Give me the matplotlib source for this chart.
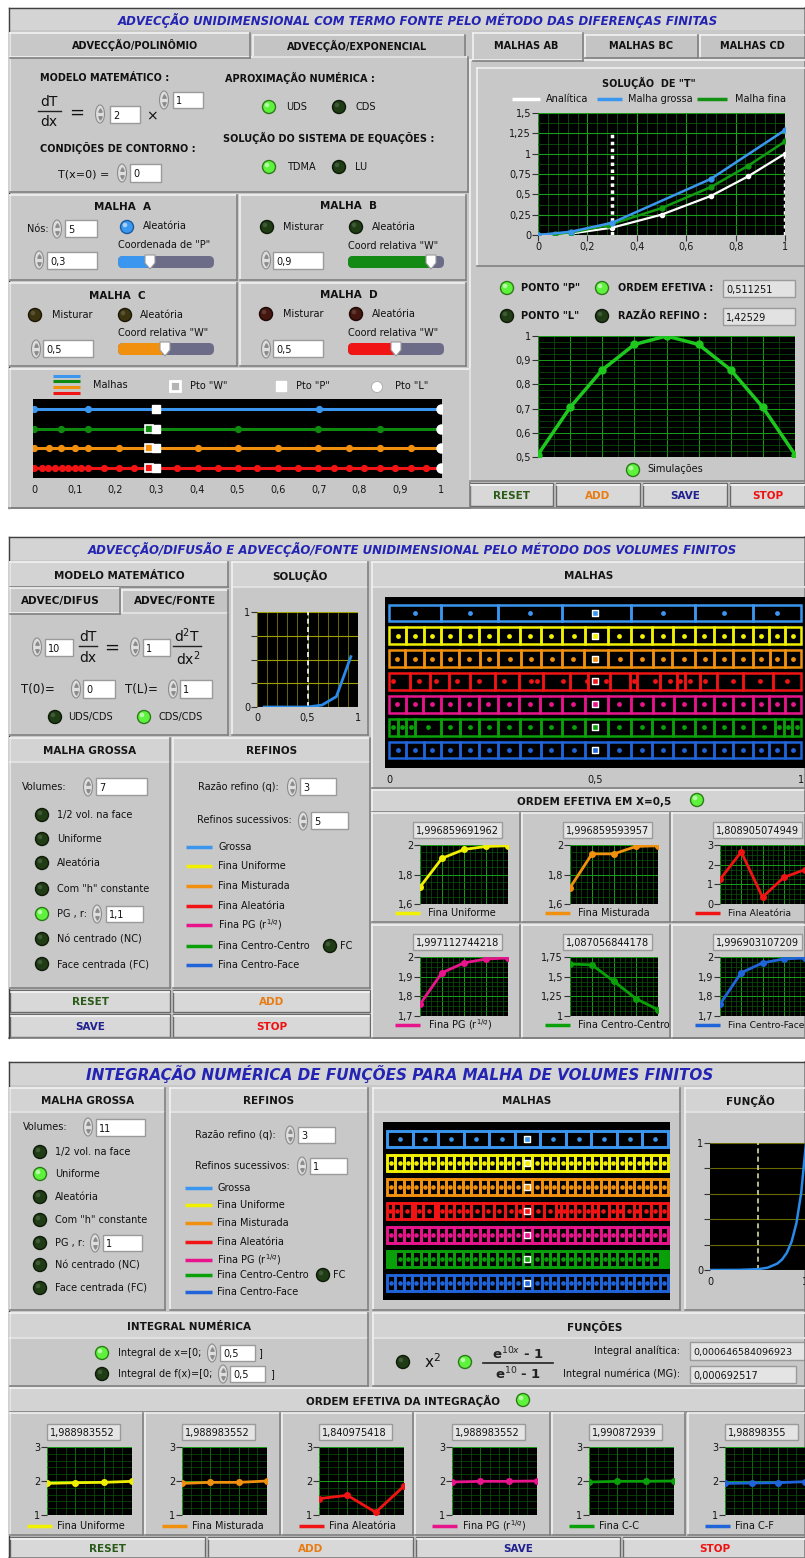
import matplotlib
matplotlib.use('Agg')
import matplotlib.pyplot as plt
from matplotlib.patches import Rectangle, Circle, Ellipse, FancyBboxPatch, Polygon
from matplotlib.ticker import MultipleLocator

# ---------------- data ----------------
# panel 1 - solution of T
sol_x_analit = [0, 0.067, 0.133, 0.3, 0.5, 0.7, 0.85, 1.0]
sol_y_analit = [0, 0.005, 0.018, 0.09, 0.25, 0.48, 0.72, 1.0]
sol_x_grossa = [0, 0.133, 0.3, 0.7, 1.0]
sol_y_grossa = [0, 0.04, 0.15, 0.69, 1.29]
sol_x_fina = [0, 0.067, 0.133, 0.283, 0.5, 0.7, 0.85, 1.0]
sol_y_fina = [0, 0.01, 0.03, 0.12, 0.33, 0.59, 0.85, 1.15]
sol_xticks = [0, 0.2, 0.4, 0.6, 0.8, 1.0]
sol_xlabels = ['0', '0,2', '0,4', '0,6', '0,8', '1']
sol_yticks = [0, 0.25, 0.5, 0.75, 1.0, 1.25, 1.5]
sol_ylabels = ['0', '0,25', '0,5', '0,75', '1', '1,25', '1,5']

# panel 1 - simulations
sim_x = [0, 1, 2, 3, 4, 5, 6, 7, 8]
sim_y = [0.51, 0.705, 0.86, 0.965, 1.0, 0.965, 0.86, 0.705, 0.51]
sim_yticks = [0.5, 0.6, 0.7, 0.8, 0.9, 1.0]
sim_ylabels = ['0,5', '0,6', '0,7', '0,8', '0,9', '1']

# panel 1 - mesh nodes
mesh_a = [0, 0.133, 0.7, 1.0]
mesh_b = [0, 0.067, 0.133, 0.5, 0.698, 0.851, 1.0]
mesh_c = [0, 0.037, 0.067, 0.1, 0.133, 0.209, 0.403, 0.5, 0.6, 0.698, 0.775, 0.851, 0.926, 1.0]
mesh_d = [0, 0.018, 0.035, 0.052, 0.068, 0.084, 0.1, 0.116, 0.133, 0.172, 0.209, 0.246,
          0.352, 0.403, 0.451, 0.5, 0.549, 0.6, 0.648, 0.698, 0.738, 0.775, 0.811, 0.851,
          0.888, 0.926, 0.963, 1.0]
pto_w, pto_p, pto_l = 0.283, 0.3, 1.0
mesh_ticks = [0, 0.1, 0.2, 0.3, 0.4, 0.5, 0.6, 0.7, 0.8, 0.9, 1.0]
mesh_labels = ['0', '0,1', '0,2', '0,3', '0,4', '0,5', '0,6', '0,7', '0,8', '0,9', '1']

# panel 2 - solution
fv_sol_x = [0.071, 0.214, 0.357, 0.5, 0.643, 0.786, 0.929]
fv_sol_y = [0, 0, 0, 0.0, 0.02, 0.11, 0.53]

# panel 2 - meshes (faces)
p2_grossa = [0, 0.126, 0.265, 0.42, 0.587, 0.742, 0.883, 1.0]
p2_uniforme = [0, 0.042, 0.084, 0.126, 0.172, 0.219, 0.265, 0.317, 0.368, 0.42, 0.476,
               0.531, 0.587, 0.639, 0.690, 0.742, 0.789, 0.836, 0.883, 0.922, 0.961, 1.0]
p2_misturada = [0, 0.04, 0.085, 0.126, 0.17, 0.22, 0.265, 0.32, 0.37, 0.42, 0.474,
                0.532, 0.587, 0.64, 0.688, 0.742, 0.79, 0.835, 0.883, 0.925, 0.96, 1.0]
p2_aleatoria = [0, 0.051, 0.10, 0.146, 0.197, 0.257, 0.316, 0.375, 0.44, 0.484, 0.537,
                0.585, 0.601, 0.658, 0.698, 0.718, 0.755, 0.795, 0.86, 0.933, 1.0]
p2_aleatoria_nos = [0.01, 0.074, 0.113, 0.166, 0.219, 0.28, 0.345, 0.36, 0.422, 0.48, 0.527,
                    0.595, 0.646, 0.682, 0.706, 0.73, 0.767, 0.834, 0.9, 0.965]
p2_pg = [0, 0.041, 0.083, 0.126, 0.171, 0.218, 0.265, 0.316, 0.367, 0.42, 0.475,
         0.531, 0.587, 0.64, 0.691, 0.742, 0.789, 0.836, 0.883, 0.923, 0.962, 1.0]
p2_cc = [0, 0.021, 0.042, 0.063, 0.126, 0.172, 0.219, 0.265, 0.317, 0.368, 0.42, 0.476,
         0.531, 0.587, 0.639, 0.690, 0.742, 0.789, 0.836, 0.883, 0.937, 0.958, 0.979, 1.0]
p2_cf = [0, 0.042, 0.084, 0.126, 0.172, 0.219, 0.265, 0.317, 0.368, 0.42, 0.476,
         0.531, 0.587, 0.639, 0.690, 0.742, 0.789, 0.836, 0.883, 0.922, 0.961, 1.0]

# panel 2 - effective order
ordem_x = [1, 2, 3, 4, 5]
ordem_uniforme = [1.715, 1.91, 1.97, 1.99, 1.995]
ordem_misturada = [1.71, 1.94, 1.94, 1.99, 1.995]
ordem_aleatoria = [1.25, 2.65, 0.35, 1.35, 1.75]
ordem_pg = [1.76, 1.92, 1.97, 1.99, 1.995]
ordem_cc = [1.66, 1.65, 1.44, 1.22, 1.08]
ordem_cf = [1.76, 1.92, 1.97, 1.99, 1.995]
ordem_valores = ['1,996859691962', '1,996859593957', '1,808905074949',
                 '1,997112744218', '1,087056844178', '1,996903107209']

# panel 3 - meshes (faces)
p3_grossa = [0, 0.091, 0.182, 0.273, 0.364, 0.455, 0.545, 0.636, 0.727, 0.818, 0.909, 1.0]
p3_uniforme = [0, 0.03, 0.06, 0.09, 0.12, 0.15, 0.18, 0.21, 0.24, 0.27, 0.30, 0.33, 0.36,
               0.39, 0.42, 0.45, 0.485, 0.515, 0.55, 0.58, 0.61, 0.64, 0.67, 0.70, 0.73,
               0.76, 0.79, 0.82, 0.85, 0.88, 0.91, 0.94, 0.97, 1.0]
p3_aleatoria = [0, 0.02, 0.05, 0.09, 0.1, 0.13, 0.17, 0.18, 0.21, 0.24, 0.27, 0.3, 0.34,
                0.38, 0.42, 0.46, 0.485, 0.515, 0.56, 0.6, 0.62, 0.64, 0.67, 0.7, 0.73,
                0.75, 0.79, 0.82, 0.84, 0.88, 0.9, 0.94, 0.97, 1.0]
p3_cc = [0, 0.01, 0.02, 0.03, 0.06, 0.09, 0.12, 0.15, 0.18, 0.21, 0.24, 0.27, 0.30, 0.33,
         0.36, 0.39, 0.42, 0.45, 0.485, 0.515, 0.55, 0.58, 0.61, 0.64, 0.67, 0.70, 0.73,
         0.76, 0.79, 0.82, 0.85, 0.88, 0.91, 0.94, 0.97, 0.98, 0.99, 1.0]

# panel 3 - function
fun_x = [0, 0.3, 0.5, 0.6, 0.7, 0.75, 0.8, 0.85, 0.9, 0.95, 1.0]
fun_y = [0, 0.0009, 0.0067, 0.018, 0.05, 0.082, 0.135, 0.223, 0.368, 0.607, 1.0]

# panel 3 - effective order of integration
int_x = [1, 2, 3, 4]
int_uniforme = [1.93, 1.95, 1.96, 1.99]
int_misturada = [1.93, 1.96, 1.96, 2.0]
int_aleatoria = [1.48, 1.58, 1.08, 1.85]
int_pg = [1.97, 1.99, 1.99, 2.0]
int_cc = [1.97, 1.99, 1.99, 2.0]
int_cf = [1.93, 1.94, 1.95, 1.98]
int_valores = ['1,988983552', '1,988983552', '1,840975418',
               '1,988983552', '1,990872939', '1,98898355']

# ---------------- figure setup ----------------
plt.rcParams['font.family'] = 'DejaVu Sans'
W, H = 805, 1558
fig = plt.figure(figsize=(W / 100, H / 100), dpi=100)
bg = fig.add_axes([0, 0, 1, 1])
bg.set_xlim(0, W)
bg.set_ylim(H, 0)
bg.axis('off')

GRAY = '#c8c8c8'
HEAD = '#d3d3d3'
TITLE_BLUE = '#2323b4'
C_BLUE, C_GREEN, C_ORANGE, C_RED = '#3a96ee', '#0e8a0e', '#f0900e', '#f01414'
C_YELLOW, C_MAGENTA, C_GREEN2, C_DBLUE = '#f0f000', '#e8148c', '#0aa00a', '#1f64d8'


def pax(x0, y0, x1, y1):
    return fig.add_axes([x0 / W, 1 - y1 / H, (x1 - x0) / W, (y1 - y0) / H])


def T(x, y, s, size=7, bold=False, color='#111111', ha='left', italic=False):
    bg.text(x, y, s, fontsize=size, fontweight='bold' if bold else 'normal',
            color=color, ha=ha, va='center', style='italic' if italic else 'normal')


def bevel(x0, y0, x1, y1, fc=GRAY):
    bg.add_patch(Rectangle((x0, y0), x1 - x0, y1 - y0, fc=fc, ec='none'))
    bg.plot([x0, x1], [y0, y0], color='#f2f2f2', lw=1.2)
    bg.plot([x0, x0], [y0, y1], color='#f2f2f2', lw=1.2)
    bg.plot([x0, x1], [y1, y1], color='#808080', lw=1.2)
    bg.plot([x1, x1], [y0, y1], color='#808080', lw=1.2)


def header(x0, y0, x1, y1, label, cx=None):
    bevel(x0, y0, x1, y1, HEAD)
    T(cx if cx else (x0 + x1) / 2, (y0 + y1) / 2 + 1, label, 7.5, True, '#151515', 'center')


def led(x, y, kind='off'):
    cols = {'on': ('#5ef23c', '#2c7a18'), 'off': ('#1f3c15', '#0d1a08'),
            'blue': ('#3c98ee', '#1a5aa0'), 'olive': ('#3c3410', '#1a1606'),
            'red': ('#44160f', '#1c0804')}
    fc, ec = cols[kind]
    bg.add_patch(Circle((x, y), 6.5, fc=fc, ec=ec, lw=1))
    bg.add_patch(Circle((x - 2, y - 2), 2.3, fc='white', ec='none',
                        alpha=0.55 if kind in ('on', 'blue') else 0.15))


def numbox(x0, y0, x1, y1, s, fc='white', size=7):
    bg.add_patch(Rectangle((x0, y0), x1 - x0, y1 - y0, fc=fc, ec='#9a9a9a', lw=1))
    T(x0 + 3, (y0 + y1) / 2 + 1, s, size)


def spinner(x, y):
    bg.add_patch(Ellipse((x, y), 9, 18, fc='#dedede', ec='#8c8c8c', lw=0.8))
    bg.plot([x], [y - 4], marker='^', ms=2.5, color='#8c8c8c')
    bg.plot([x], [y + 4], marker='v', ms=2.5, color='#8c8c8c')


def slider(x0, x1, y, xt, color):
    bg.add_patch(FancyBboxPatch((x0, y - 6), x1 - x0, 12, boxstyle='round,pad=0,rounding_size=5',
                                fc='#6c6c88', ec='none'))
    bg.add_patch(FancyBboxPatch((x0, y - 6), xt - x0, 12, boxstyle='round,pad=0,rounding_size=5',
                                fc=color, ec='none'))
    bg.add_patch(Polygon([(xt - 5, y - 7), (xt + 5, y - 7), (xt + 5, y + 1), (xt, y + 7), (xt - 5, y + 1)],
                         fc='white', ec='#9a9a9a', lw=0.8))


def button(x0, y0, x1, y1, label, color):
    bg.add_patch(Rectangle((x0, y0), x1 - x0, y1 - y0, fc='#d8d8d8', ec='#6a6a6a', lw=1))
    bg.plot([x0 + 1, x1 - 1], [y0 + 1.5, y0 + 1.5], color='#f6f6f6', lw=1.2)
    T((x0 + x1) / 2, (y0 + y1) / 2 + 1, label, 7.5, True, color, 'center')


def legline(x0, x1, y, color, label, lx=None, size=7):
    bg.plot([x0, x1], [y, y], color=color, lw=2.5, solid_capstyle='butt')
    T(lx if lx else x1 + 6, y, label, size)


def black_axes(ax):
    ax.set_facecolor('black')
    for s in ax.spines.values():
        s.set_visible(False)
    ax.tick_params(labelsize=7, length=4, pad=1, color='#333333', labelcolor='#151515')
    ax.tick_params(which='minor', length=0)


def small_plot(rect, xs, ys, color, ylim, yticks, ylabels, minor_y, minor_x=0.25):
    ax = pax(*rect)
    black_axes(ax)
    ax.plot(xs, ys, color=color, lw=2, marker='o', ms=4)
    ax.set_xlim(xs[0], xs[-1])
    ax.set_ylim(*ylim)
    ax.set_yticks(yticks)
    ax.set_yticklabels(ylabels)
    ax.set_xticks(xs)
    ax.set_xticklabels([])
    ax.tick_params(axis='x', length=0)
    ax.xaxis.set_minor_locator(MultipleLocator(minor_x))
    ax.yaxis.set_minor_locator(MultipleLocator(minor_y))
    ax.grid(which='major', color='#17a017', lw=0.7)
    ax.grid(which='minor', color='#0a520a', lw=0.5)
    return ax


def mesh_row(ax, row, faces, color, h, nodes=None, s=12, lw=1.8):
    for f0, f1 in zip(faces[:-1], faces[1:]):
        ax.add_patch(Rectangle((f0, row - h / 2), f1 - f0, h, fc='none', ec=color, lw=lw))
    if nodes is None:
        nodes = [(a + b) / 2 for a, b in zip(faces[:-1], faces[1:])]
    ax.scatter(nodes, [row] * len(nodes), s=s, c=color, zorder=3, linewidths=0)
    ax.scatter([0.5], [row], marker='s', s=16, c=[color], edgecolors='white', linewidths=1, zorder=4)


# ======================= PANEL 1 =======================
bevel(9, 8, 805, 508)
bg.add_patch(Rectangle((9, 8), 796, 22, fc='#d4d4d4', ec='none'))
bg.plot([9, 805], [8, 8], color='#404040', lw=1)
bg.plot([9, 9], [8, 508], color='#404040', lw=1)
T(418, 20, 'ADVECÇÃO UNIDIMENSIONAL COM TERMO FONTE PELO MÉTODO DAS DIFERENÇAS FINITAS',
  8.5, True, TITLE_BLUE, 'center', True)

# tabs
bevel(253, 35, 465, 57, '#c4c4c4')
T(357, 46, 'ADVECÇÃO/EXPONENCIAL', 7, True, ha='center')
bevel(10, 57, 468, 192)
bevel(10, 33, 250, 58)
bg.add_patch(Rectangle((11, 50), 238, 9, fc=GRAY, ec='none'))
T(135, 45, 'ADVECÇÃO/POLINÔMIO', 7, True, ha='center')

T(40, 78, 'MODELO MATEMÁTICO :', 7, True)
T(49, 102, 'dT', 10, ha='center')
bg.plot([38, 61], [111, 111], color='#222222', lw=1)
T(49, 122, 'dx', 10, ha='center')
T(77, 113, '=', 13, ha='center')
spinner(100, 114)
numbox(110, 106, 140, 123, '2')
T(152, 116, '×', 10, ha='center')
spinner(164, 100)
numbox(173, 92, 203, 108, '1')
T(40, 148, 'CONDIÇÕES DE CONTORNO :', 7, True)
T(58, 174, 'T(x=0) =', 8)
spinner(122, 173)
numbox(130, 164, 161, 182, '0')

T(225, 78, 'APROXIMAÇÃO NUMÉRICA :', 7, True)
led(269, 107, 'on')
T(286, 107, 'UDS', 7)
led(339, 107, 'off')
T(355, 107, 'CDS', 7)
T(223, 138, 'SOLUÇÃO DO SISTEMA DE EQUAÇÕES :', 7, True)
led(269, 167, 'on')
T(287, 167, 'TDMA', 7)
led(339, 167, 'off')
T(355, 167, 'LU', 7)

# malha A..D boxes
bevel(10, 195, 237, 280)
bevel(240, 195, 466, 280)
bevel(10, 283, 237, 366)
bevel(240, 283, 466, 366)

T(122, 207, 'MALHA  A', 7.5, True, ha='center')
T(27, 229, 'Nós:', 7)
spinner(57, 229)
numbox(65, 220, 97, 237, '5')
led(127, 227, 'blue')
T(143, 226, 'Aleatória', 7)
T(118, 245, 'Coordenada de "P"', 7)
spinner(39, 260)
numbox(47, 252, 97, 269, '0,3')
slider(118, 214, 262, 150, C_BLUE)

T(348, 206, 'MALHA  B', 7.5, True, ha='center')
led(267, 227, 'off')
T(283, 227, 'Misturar', 7)
led(356, 227, 'off')
T(372, 227, 'Aleatória', 7)
T(348, 246, 'Coord relativa "W"', 7)
spinner(266, 260)
numbox(273, 252, 323, 269, '0,9')
slider(348, 444, 262, 431, '#138a13')

T(117, 296, 'MALHA  C', 7.5, True, ha='center')
led(35, 315, 'olive')
T(52, 315, 'Misturar', 7)
led(125, 315, 'olive')
T(140, 315, 'Aleatória', 7)
T(118, 333, 'Coord relativa "W"', 7)
spinner(36, 349)
numbox(43, 340, 93, 357, '0,5')
slider(118, 214, 349, 165, C_ORANGE)

T(349, 295, 'MALHA  D', 7.5, True, ha='center')
led(266, 314, 'red')
T(283, 314, 'Misturar', 7)
led(356, 314, 'red')
T(372, 314, 'Aleatória', 7)
T(348, 333, 'Coord relativa "W"', 7)
spinner(266, 349)
numbox(273, 340, 323, 357, '0,5')
slider(348, 444, 349, 396, C_RED)

# mesh panel
bevel(10, 369, 470, 508)
for yy, cc in zip([376, 381, 387, 393], [C_BLUE, C_GREEN, C_ORANGE, C_RED]):
    bg.plot([53, 80], [yy, yy], color=cc, lw=2.2, solid_capstyle='butt')
T(93, 385, 'Malhas', 7)
bg.add_patch(Rectangle((170, 381), 10, 10, fc='#b4b4b4', ec='white', lw=2))
T(190, 386, 'Pto "W"', 7)
bg.add_patch(Rectangle((276, 381), 10, 10, fc='white', ec='white', lw=1))
T(296, 386, 'Pto "P"', 7)
bg.add_patch(Circle((377, 387), 5.5, fc='white', ec='#aaaaaa', lw=0.6))
T(395, 386, 'Pto "L"', 7)

axm = pax(33, 399, 442, 478)
axm.set_facecolor('black')
for s in axm.spines.values():
    s.set_visible(False)
rows1 = [(mesh_a, C_BLUE), (mesh_b, C_GREEN), (mesh_c, C_ORANGE), (mesh_d, C_RED)]
for i, (nodes, cc) in enumerate(rows1):
    axm.plot([0, 1], [i, i], color=cc, lw=2.2)
    axm.plot(nodes, [i] * len(nodes), 'o', color=cc, ms=4.2)
    if i > 0:
        axm.plot([pto_w], [i], 's', ms=5.5, mfc=cc, mec='white', mew=1.2)
    axm.plot([pto_p], [i], 's', ms=6, mfc='white', mec='white')
    axm.plot([pto_l], [i], 'o', ms=6.5, mfc='white', mec='white')
axm.set_xlim(-0.003, 1.003)
axm.set_ylim(3.53, -0.53)
axm.set_yticks([])
axm.set_xticks(mesh_ticks)
axm.set_xticklabels(mesh_labels)
axm.tick_params(axis='x', length=0, pad=5, labelsize=7, labelcolor='#151515')

# right side tabs
bevel(585, 35, 698, 58, '#c4c4c4')
T(641, 46, 'MALHAS BC', 7, True, ha='center')
bevel(700, 35, 806, 58, '#c4c4c4')
T(752, 46, 'MALHAS CD', 7, True, ha='center')
bevel(470, 60, 806, 481)
bevel(473, 33, 583, 61)
bg.add_patch(Rectangle((474, 54), 108, 9, fc=GRAY, ec='none'))
T(526, 46, 'MALHAS AB', 7, True, ha='center')
bevel(477, 68, 806, 266)

T(649, 83, 'SOLUÇÃO  DE "T"', 7, True, ha='center')
legline(512, 540, 99, 'white', 'Analítica', 546)
legline(597, 622, 99, C_BLUE, 'Malha grossa', 628)
legline(697, 727, 99, '#119011', 'Malha fina', 735)

ax1 = pax(538, 113, 785, 235)
black_axes(ax1)
ax1.plot([0.3, 0.3], [0, 1.25], color='white', lw=2.5, ls=(0, (1, 1)))
ax1.plot([1.0, 1.0], [0, 1.0], color='white', lw=2.5, ls=(0, (1, 1)))
ax1.plot(sol_x_analit, sol_y_analit, color='white', lw=1.6, marker='o', ms=3)
ax1.plot(sol_x_fina, sol_y_fina, color='#129a12', lw=1.8, marker='o', ms=3.5)
ax1.plot(sol_x_grossa, sol_y_grossa, color=C_BLUE, lw=1.8, marker='o', ms=3.5)
ax1.set_xlim(0, 1)
ax1.set_ylim(0, 1.5)
ax1.set_xticks(sol_xticks)
ax1.set_xticklabels(sol_xlabels)
ax1.set_yticks(sol_yticks)
ax1.set_yticklabels(sol_ylabels)
ax1.xaxis.set_minor_locator(MultipleLocator(0.04))
ax1.yaxis.set_minor_locator(MultipleLocator(0.125))
ax1.grid(which='major', color='#17a017', lw=0.8)
ax1.grid(which='minor', color='#0b560b', lw=0.6)

led(507, 288, 'on')
T(521, 288, 'PONTO "P"', 7, True)
led(602, 288, 'on')
T(618, 288, 'ORDEM EFETIVA :', 7, True)
numbox(723, 280, 795, 297, '0,511251', fc='#e2e2e2')
led(507, 316, 'off')
T(521, 316, 'PONTO "L"', 7, True)
led(602, 316, 'off')
T(618, 316, 'RAZÃO REFINO :', 7, True)
numbox(723, 308, 795, 325, '1,42529', fc='#e2e2e2')

ax2 = pax(538, 336, 795, 457)
black_axes(ax2)
ax2.plot(sim_x, sim_y, color='#1ec81e', lw=2.5, marker='o', ms=5)
ax2.set_xlim(0, 8)
ax2.set_ylim(0.5, 1.0)
ax2.set_yticks(sim_yticks)
ax2.set_yticklabels(sim_ylabels)
ax2.set_xticks(sim_x)
ax2.set_xticklabels([])
ax2.tick_params(axis='x', length=0)
ax2.xaxis.set_minor_locator(MultipleLocator(0.5))
ax2.yaxis.set_minor_locator(MultipleLocator(0.025))
ax2.grid(which='major', color='#17a017', lw=0.7)
ax2.grid(which='minor', color='#0b560b', lw=0.5)
led(633, 470, 'on')
T(647, 469, 'Simulações', 7)

button(470, 483, 553, 506, 'RESET', '#2a5a18')
button(556, 483, 640, 506, 'ADD', '#e87c12')
button(643, 483, 727, 506, 'SAVE', '#20208e')
button(730, 483, 806, 506, 'STOP', '#f01010')

# ======================= PANEL 2 =======================
bevel(9, 537, 805, 1038)
bg.add_patch(Rectangle((9, 538), 796, 22, fc='#d4d4d4', ec='none'))
bg.plot([9, 805], [537, 537], color='#404040', lw=1)
bg.plot([9, 9], [537, 1038], color='#404040', lw=1)
T(412, 549, 'ADVECÇÃO/DIFUSÃO E ADVECÇÃO/FONTE UNIDIMENSIONAL PELO MÉTODO DOS VOLUMES FINITOS',
  8.5, True, TITLE_BLUE, 'center', True)

header(10, 562, 228, 587, 'MODELO MATEMÁTICO')
bevel(122, 590, 228, 613, '#c4c4c4')
T(175, 601, 'ADVEC/FONTE', 7.5, True, ha='center')
bevel(10, 613, 228, 735)
bevel(10, 588, 120, 614)
bg.add_patch(Rectangle((11, 607), 108, 9, fc=GRAY, ec='none'))
T(60, 601, 'ADVEC/DIFUS', 7.5, True, ha='center')

spinner(37, 647)
numbox(45, 639, 73, 656, '10')
T(88, 637, 'dT', 10, ha='center')
bg.plot([79, 97], [646, 646], color='#222222', lw=1)
T(88, 658, 'dx', 10, ha='center')
T(112, 648, '=', 13, ha='center')
spinner(135, 647)
numbox(143, 639, 170, 656, '1')
T(187, 636, 'd$^2$T', 10, ha='center')
bg.plot([173, 201], [646, 646], color='#222222', lw=1)
T(188, 659, 'dx$^2$', 10, ha='center')
T(21, 689, 'T(0)=', 8.5)
spinner(76, 689)
numbox(83, 680, 115, 698, '0')
T(125, 689, 'T(L)=', 8.5)
spinner(173, 689)
numbox(180, 680, 212, 698, '1')
led(55, 717, 'off')
T(68, 717, 'UDS/CDS', 7)
led(144, 717, 'on')
T(158, 717, 'CDS/CDS', 7)

header(232, 562, 368, 587, 'SOLUÇÃO')
bevel(232, 587, 368, 735)
ax3 = pax(257, 612, 358, 707)
black_axes(ax3)
ax3.plot([0.5, 0.5], [0, 1], color='white', lw=1.2, ls=(0, (3, 2)))
ax3.plot(fv_sol_x, fv_sol_y, color='#2a8ae8', lw=2)
ax3.set_xlim(0, 1)
ax3.set_ylim(0, 1)
ax3.set_xticks([0, 0.5, 1])
ax3.set_xticklabels(['0', '0,5', '1'])
ax3.set_yticks([0, 0.25, 0.5, 0.75, 1])
ax3.set_yticklabels(['0', '', '', '', '1'])
ax3.tick_params(axis='x', length=0, pad=4)
ax3.xaxis.set_minor_locator(MultipleLocator(0.1))
ax3.grid(which='major', axis='y', color='#a0a000', lw=0.8)
ax3.grid(which='both', axis='x', color='#7a7a00', lw=0.6)

header(372, 562, 805, 587, 'MALHAS')
bevel(372, 587, 806, 788)
ax4 = pax(385, 597, 805, 768)
ax4.set_facecolor('black')
for s in ax4.spines.values():
    s.set_visible(False)
rows2 = [(p2_grossa, C_BLUE, None), (p2_uniforme, C_YELLOW, None), (p2_misturada, C_ORANGE, None),
         (p2_aleatoria, C_RED, p2_aleatoria_nos), (p2_pg, C_MAGENTA, None),
         (p2_cc, C_GREEN2, None), (p2_cf, C_DBLUE, None)]
for i, (faces, cc, nodes) in enumerate(rows2):
    mesh_row(ax4, i, faces, cc, 0.74, nodes)
ax4.set_xlim(-0.0097, 1.0097)
ax4.set_ylim(6.79, -0.7)
ax4.set_yticks([])
ax4.set_xticks([0, 0.5, 1])
ax4.set_xticklabels(['0', '0,5', '1'])
ax4.tick_params(axis='x', length=0, pad=5, labelsize=7, labelcolor='#151515')

header(372, 790, 805, 812, 'ORDEM EFETIVA EM X=0,5', 594)
led(697, 800, 'on')

specs2 = [(ordem_uniforme, C_YELLOW, (1.6, 2.0), [1.6, 1.8, 2.0], ['1,6', '1,8', '2'], 0.05, 'Fina Uniforme'),
          (ordem_misturada, C_ORANGE, (1.6, 2.0), [1.6, 1.8, 2.0], ['1,6', '1,8', '2'], 0.05, 'Fina Misturada'),
          (ordem_aleatoria, C_RED, (0, 3), [0, 1, 2, 3], ['0', '1', '2', '3'], 0.25, 'Fina Aleatória'),
          (ordem_pg, C_MAGENTA, (1.7, 2.0), [1.7, 1.8, 1.9, 2.0], ['1,7', '1,8', '1,9', '2'], 0.025,
           'Fina PG (r$^{1/q}$)'),
          (ordem_cc, C_GREEN2, (1.0, 1.75), [1.0, 1.25, 1.5, 1.75], ['1', '1,25', '1,5', '1,75'], 0.0625,
           'Fina Centro-Centro'),
          (ordem_cf, C_DBLUE, (1.7, 2.0), [1.7, 1.8, 1.9, 2.0], ['1,7', '1,8', '1,9', '2'], 0.025,
           'Fina Centro-Face')]
col_box = [(372, 520), (522, 670), (672, 806)]
row_box = [(813, 922), (925, 1038)]
for k, (ys, cc, yl, yt, ylab, mn, name) in enumerate(specs2):
    r, c = divmod(k, 3)
    bx0, bx1 = col_box[c]
    by0, by1 = row_box[r]
    bevel(bx0, by0, bx1, by1)
    ax_left = bx0 + 48
    numbox(ax_left - 7, by0 + 9, ax_left + 82, by0 + 25, ordem_valores[k], fc='#e4e4e4')
    small_plot((ax_left, by0 + 32, min(ax_left + 88, 805), by0 + 91), ordem_x, ys, cc, yl, yt, ylab, mn)
    legline(bx0 + 23, bx0 + 48, by0 + 100, cc, name, bx0 + 56, 6.6 if c == 2 else 7)

header(10, 738, 170, 762, 'MALHA GROSSA')
bevel(10, 762, 170, 988)
T(22, 787, 'Volumes:', 7)
spinner(88, 787)
numbox(96, 778, 147, 795, '7')
leds2 = [('1/2 vol. na face', 'off'), ('Uniforme', 'off'), ('Aleatória', 'off'),
         ('Com "h" constante', 'off'), ('PG , r:', 'on'), ('Nó centrado (NC)', 'off'),
         ('Face centrada (FC)', 'off')]
for (lab, st), yy in zip(leds2, [815, 839, 863, 889, 914, 939, 964]):
    led(42, yy, st)
    T(57, yy, lab, 7)
spinner(97, 914)
numbox(106, 906, 143, 922, '1,1')

header(173, 738, 370, 762, 'REFINOS')
bevel(173, 762, 370, 988)
T(198, 787, 'Razão refino (q):', 7)
spinner(292, 787)
numbox(300, 778, 336, 795, '3')
T(197, 820, 'Refinos sucessivos:', 7)
spinner(303, 821)
numbox(311, 812, 348, 829, '5')
leg_names = ['Grossa', 'Fina Uniforme', 'Fina Misturada', 'Fina Aleatória', 'Fina PG (r$^{1/q}$)',
             'Fina Centro-Centro', 'Fina Centro-Face']
leg_cols = [C_BLUE, C_YELLOW, C_ORANGE, C_RED, C_MAGENTA, C_GREEN2, C_DBLUE]
for lab, cc, yy in zip(leg_names, leg_cols, [847, 866, 886, 906, 925, 946, 965]):
    legline(186, 212, yy, cc, lab, 218)
led(330, 946, 'off')
T(340, 946, 'FC', 7)

button(10, 990, 170, 1012, 'RESET', '#2a5a18')
button(173, 990, 370, 1012, 'ADD', '#e87c12')
button(10, 1014, 170, 1037, 'SAVE', '#20208e')
button(173, 1014, 370, 1037, 'STOP', '#f01010')

# ======================= PANEL 3 =======================
bevel(9, 1062, 805, 1558)
bg.add_patch(Rectangle((9, 1063), 796, 22, fc='#d4d4d4', ec='none'))
bg.plot([9, 805], [1062, 1062], color='#404040', lw=1)
bg.plot([9, 9], [1062, 1558], color='#404040', lw=1)
T(400, 1074, 'INTEGRAÇÃO NUMÉRICA DE FUNÇÕES PARA MALHA DE VOLUMES FINITOS',
  11, True, TITLE_BLUE, 'center', True)

header(10, 1088, 165, 1112, 'MALHA GROSSA')
bevel(10, 1112, 165, 1310)
T(23, 1127, 'Volumes:', 7)
spinner(88, 1127)
numbox(96, 1119, 145, 1136, '11')
leds3 = [('1/2 vol. na face', 'off'), ('Uniforme', 'on'), ('Aleatória', 'off'),
         ('Com "h" constante', 'off'), ('PG , r:', 'off'), ('Nó centrado (NC)', 'off'),
         ('Face centrada (FC)', 'off')]
for (lab, st), yy in zip(leds3, [1152, 1174, 1197, 1220, 1243, 1265, 1288]):
    led(40, yy, st)
    T(55, yy, lab, 7)
spinner(95, 1243)
numbox(103, 1235, 142, 1251, '1')

header(170, 1088, 368, 1112, 'REFINOS')
bevel(170, 1112, 368, 1310)
T(195, 1135, 'Razão refino (q):', 7)
spinner(290, 1135)
numbox(298, 1127, 335, 1143, '3')
T(195, 1166, 'Refinos sucessivos:', 7)
spinner(302, 1166)
numbox(310, 1158, 347, 1174, '1')
for lab, cc, yy in zip(leg_names, leg_cols, [1188, 1205, 1223, 1242, 1260, 1275, 1292]):
    legline(185, 212, yy, cc, lab, 217)
led(323, 1275, 'off')
T(333, 1275, 'FC', 7)

header(373, 1088, 680, 1112, 'MALHAS')
bevel(373, 1112, 680, 1310)
ax5 = pax(383, 1122, 670, 1300)
ax5.set_facecolor('black')
for s in ax5.spines.values():
    s.set_visible(False)
rows3 = [(p3_grossa, C_BLUE), (p3_uniforme, C_YELLOW), (p3_uniforme, C_ORANGE),
         (p3_aleatoria, C_RED), (p3_uniforme, C_MAGENTA), (p3_cc, C_GREEN2), (p3_uniforme, C_DBLUE)]
for i, (faces, cc) in enumerate(rows3):
    mesh_row(ax5, i, faces, cc, 0.68, s=11, lw=2.1)
ax5.set_xlim(-0.014, 1.007)
ax5.set_ylim(6.71, -0.71)
ax5.set_xticks([])
ax5.set_yticks([])

header(685, 1088, 806, 1112, 'FUNÇÃO', 750)
bevel(685, 1112, 806, 1310)
ax6 = pax(710, 1143, 806, 1270)
black_axes(ax6)
ax6.plot([0.5, 0.5], [0, 1], color='#d8d8a0', lw=1.2, ls=(0, (3, 2)))
ax6.plot(fun_x, fun_y, color='#2a8ae8', lw=1.8)
ax6.set_xlim(0, 1)
ax6.set_ylim(0, 1)
ax6.set_yticks([0, 0.2, 0.4, 0.6, 0.8, 1.0])
ax6.set_yticklabels(['0', '', '', '', '', '1'])
ax6.set_xticks([0, 0.985])
ax6.set_xticklabels(['0', '1'])
ax6.tick_params(axis='x', length=0, pad=5)
ax6.grid(which='major', axis='y', color='#6a6a00', lw=0.8)

header(10, 1313, 368, 1338, 'INTEGRAL NUMÉRICA')
bevel(10, 1338, 368, 1386)
led(102, 1353, 'on')
T(118, 1353, 'Integral de x=[0;', 7)
spinner(212, 1353)
numbox(220, 1345, 255, 1361, '0,5')
T(258, 1353, ']', 7)
led(102, 1374, 'off')
T(118, 1374, 'Integral de f(x)=[0;', 7)
spinner(223, 1374)
numbox(230, 1366, 265, 1382, '0,5')
T(270, 1374, ']', 7)

header(373, 1313, 806, 1338, 'FUNÇÕES', 595)
bevel(373, 1338, 806, 1386)
led(403, 1362, 'off')
T(424, 1362, 'x$^2$', 11)
led(465, 1362, 'on')
T(518, 1354, 'e$^{10x}$ - 1', 9.5, True, ha='center', color='#222222')
bg.plot([483, 553], [1363, 1363], color='#222222', lw=1.2)
T(518, 1374, 'e$^{10}$ - 1', 9.5, True, ha='center', color='#222222')
T(680, 1351, 'Integral analítica:', 7, ha='right')
numbox(690, 1342, 806, 1360, '0,000646584096923', fc='#e4e4e4', size=6.8)
T(680, 1374, 'Integral numérica (MG):', 7, ha='right')
numbox(690, 1366, 796, 1383, '0,000692517', fc='#e4e4e4')

header(10, 1388, 806, 1412, 'ORDEM EFETIVA DA INTEGRAÇÃO', 403)
led(523, 1400, 'on')

specs3 = [(int_uniforme, C_YELLOW, 'Fina Uniforme'), (int_misturada, C_ORANGE, 'Fina Misturada'),
          (int_aleatoria, C_RED, 'Fina Aleatória'), (int_pg, C_MAGENTA, 'Fina PG (r$^{1/q}$)'),
          (int_cc, C_GREEN2, 'Fina C-C'), (int_cf, C_DBLUE, 'Fina C-F')]
col3 = [(10, 143), (145, 280), (282, 413), (415, 550), (552, 685), (688, 806)]
for k, (ys, cc, name) in enumerate(specs3):
    bx0, bx1 = col3[k]
    bevel(bx0, 1413, bx1, 1535)
    ax_left = bx0 + 37
    numbox(ax_left, 1424, ax_left + 73, 1440, int_valores[k], fc='#e4e4e4')
    small_plot((ax_left, 1447, min(ax_left + 85, 805), 1515), int_x, ys, cc,
               (1, 3), [1, 2, 3], ['1', '2', '3'], 0.2, minor_x=0.333)
    legline(bx0 + 17, bx0 + 42, 1526, cc, name, bx0 + 47)

button(10, 1537, 205, 1558, 'RESET', '#2a5a18')
button(208, 1537, 413, 1558, 'ADD', '#e87c12')
button(416, 1537, 620, 1558, 'SAVE', '#20208e')
button(623, 1537, 806, 1558, 'STOP', '#f01010')

fig.savefig('out.png', dpi=100)
